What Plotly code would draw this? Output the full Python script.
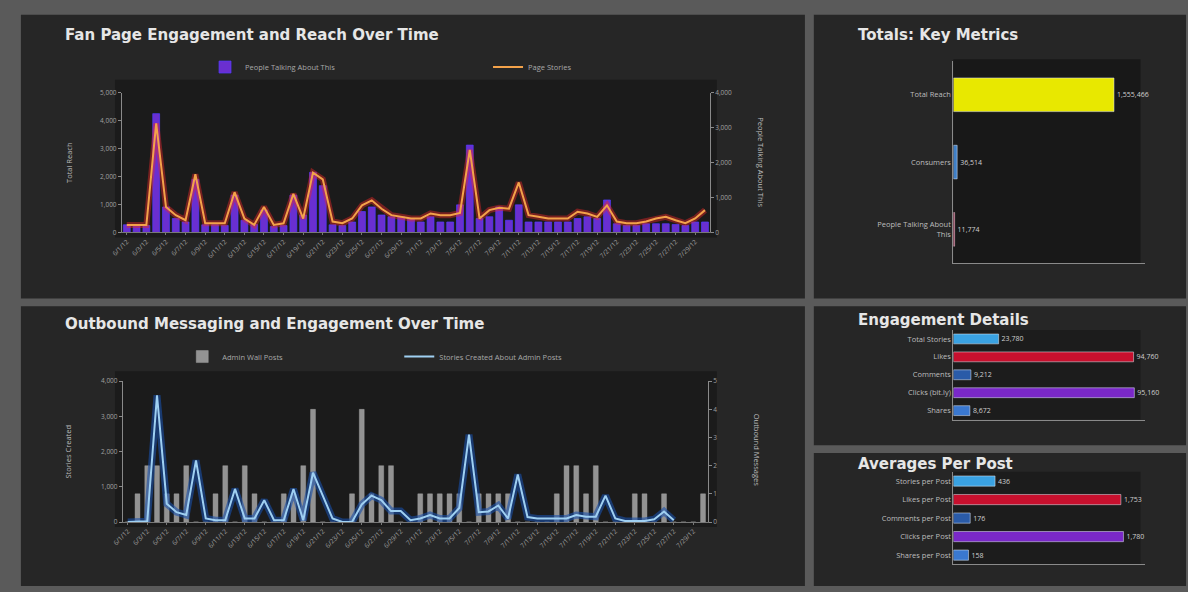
import datetime as dt
import plotly.graph_objects as go

W, H = 1188, 592
def fx(px): return px / W
def fy(py): return 1 - py / H

# ---------------- data ----------------
start = dt.date(2012, 6, 1)
dates = [f"{(start + dt.timedelta(days=i)).month}/{(start + dt.timedelta(days=i)).day}/12" for i in range(60)]

page_stories = [270, 270, 270, 3900, 910, 620, 440, 2080, 330, 330,
                330, 1440, 500, 270, 910, 270, 330, 1380, 500, 2140,
                1900, 390, 330, 500, 970, 1150, 850, 620, 560, 500,
                500, 680, 620, 620, 700, 2950, 500, 800, 880, 850,
                1790, 620, 560, 500, 500, 500, 740, 680, 560, 970,
                390, 330, 330, 390, 500, 560, 440, 330, 500, 800]

people_talking = [220, 220, 200, 3400, 730, 400, 300, 1520, 220, 220,
                  200, 1070, 350, 230, 640, 170, 200, 1070, 500, 1720,
                  1340, 220, 200, 300, 600, 730, 500, 450, 450, 400,
                  300, 450, 300, 300, 790, 2500, 400, 450, 730, 350,
                  790, 300, 300, 300, 300, 300, 400, 450, 400, 930,
                  250, 200, 200, 250, 250, 250, 230, 200, 300, 300]

admin_posts = [0, 1, 2, 2, 1, 1, 2, 0, 0, 1,
               2, 0, 2, 1, 0, 0, 1, 1, 2, 4,
               0, 0, 0, 1, 4, 1, 2, 2, 0, 0,
               1, 1, 1, 1, 1, 0, 1, 1, 1, 1,
               0, 0, 0, 0, 1, 2, 2, 1, 2, 0,
               0, 0, 1, 1, 0, 1, 0, 0, 0, 1]

stories_admin = [0, 0, 20, 3600, 520, 280, 200, 1750, 100, 50,
                 50, 940, 100, 100, 620, 50, 50, 940, 50, 1400,
                 750, 100, 0, 0, 500, 750, 620, 310, 310, 50,
                 100, 200, 100, 100, 400, 2480, 280, 300, 470, 100,
                 1350, 140, 100, 100, 100, 100, 200, 150, 150, 750,
                 100, 30, 30, 30, 80, 300, 50, None, None, None]

totals_labels = ["Total Reach", "Consumers", "People Talking About<br>This"]
totals_values = [1555466, 36514, 11774]
totals_colors = ["#e8e800", "#3f7fc6", "#c0143c"]

eng_labels = ["Total Stories", "Likes", "Comments", "Clicks (bit.ly)", "Shares"]
eng_values = [23780, 94760, 9212, 95160, 8672]

avg_labels = ["Stories per Post", "Likes per Post", "Comments per Post", "Clicks per Post", "Shares per Post"]
avg_values = [436, 1753, 176, 1780, 158]

detail_colors = ["#3aa2e2", "#c8102e", "#2a5ba8", "#7a28c8", "#3a78d0"]

# ---------------- figure ----------------
fig = go.Figure()

TICKC = "#a0a0a0"
LINEC = "#777777"

fig.add_trace(go.Bar(x=dates, y=people_talking, xaxis="x", yaxis="y",
                     name="People Talking About This", legend="legend",
                     marker=dict(color="#6a2fd0", line=dict(color="rgba(80,60,255,0.7)", width=1))))
fig.add_trace(go.Scatter(x=dates, y=page_stories, xaxis="x", yaxis="y2", mode="lines",
                         line=dict(color="rgba(230,40,40,0.45)", width=6),
                         showlegend=False, hoverinfo="skip"))
fig.add_trace(go.Scatter(x=dates, y=page_stories, xaxis="x", yaxis="y2", mode="lines",
                         name="Page Stories", legend="legend",
                         line=dict(color="#f3a24a", width=2)))

fig.add_trace(go.Bar(x=dates, y=admin_posts, xaxis="x3", yaxis="y3", width=0.5,
                     name="Admin Wall Posts", legend="legend2",
                     marker=dict(color="#939393", line=dict(color="rgba(170,170,170,0.4)", width=1))))
fig.add_trace(go.Scatter(x=dates, y=stories_admin, xaxis="x3", yaxis="y4", mode="lines",
                         line=dict(color="rgba(25,80,170,0.6)", width=7),
                         showlegend=False, hoverinfo="skip", connectgaps=False))
fig.add_trace(go.Scatter(x=dates, y=stories_admin, xaxis="x3", yaxis="y4", mode="lines",
                         name="Stories Created About Admin Posts", legend="legend2",
                         line=dict(color="#9fd0f2", width=2)))

fig.add_trace(go.Bar(x=totals_values, y=totals_labels, orientation="h", xaxis="x5", yaxis="y5",
                     marker=dict(color=totals_colors), width=0.5, showlegend=False,
                     text=[f"{v:,}" for v in totals_values], textposition="outside",
                     textfont=dict(size=7, color="#cfcfcf"), cliponaxis=False))
fig.add_trace(go.Bar(x=eng_values, y=eng_labels, orientation="h", xaxis="x6", yaxis="y6",
                     marker=dict(color=detail_colors), width=0.55, showlegend=False,
                     text=[f"{v:,}" for v in eng_values], textposition="outside",
                     textfont=dict(size=7, color="#cfcfcf"), cliponaxis=False))
fig.add_trace(go.Bar(x=avg_values, y=avg_labels, orientation="h", xaxis="x7", yaxis="y7",
                     marker=dict(color=detail_colors), width=0.55, showlegend=False,
                     text=[f"{v:,}" for v in avg_values], textposition="outside",
                     textfont=dict(size=7, color="#cfcfcf"), cliponaxis=False))

def xcat(domain, anchor):
    return dict(domain=domain, anchor=anchor, type="category", range=[-0.5, 59.5],
                tickmode="array", tickvals=dates[::2], tickangle=-45,
                tickfont=dict(size=6.5, color=TICKC), showline=True, linecolor=LINEC,
                ticks="outside", ticklen=2, tickcolor=LINEC, showgrid=False, zeroline=False)

def yval(domain, anchor, side, rng, vals, texts, overlay=None):
    d = dict(domain=domain, anchor=anchor, side=side, range=rng, tickmode="array",
             tickvals=vals, ticktext=texts, tickfont=dict(size=6.5, color=TICKC),
             showline=True, linecolor="#8a8a8a", ticks="outside", ticklen=3, tickcolor="#8a8a8a",
             showgrid=False, zeroline=False)
    if overlay:
        d["overlaying"] = overlay
    return d

def xbar(rng, anchor):
    return dict(domain=[fx(951), fx(1145)], anchor=anchor, range=rng, showticklabels=False,
                showline=True, linecolor="#8a8a8a", showgrid=False, zeroline=False, ticks="")

def ybar(domain, anchor):
    return dict(domain=domain, anchor=anchor, type="category", autorange="reversed",
                showline=True, linecolor="#8a8a8a", showgrid=False, zeroline=False, ticks="",
                tickfont=dict(size=7.5, color="#bdbdbd"))

k = [0, 1000, 2000, 3000, 4000, 5000]
kt = ["0", "1,000", "2,000", "3,000", "4,000", "5,000"]

fig.update_layout(
    width=W, height=H, autosize=False,
    margin=dict(l=0, r=0, t=0, b=0),
    paper_bgcolor="#5a5a5a", plot_bgcolor="rgba(0,0,0,0)",
    font=dict(family="Open Sans", color="#cfcfcf"),
    bargap=0.3, barmode="overlay",
    xaxis=xcat([fx(111), fx(705)], "y"),
    yaxis=yval([fy(231), fy(89)], "x", "right", [0, 4000], k[:5], kt[:5]),
    yaxis2=yval([fy(231), fy(89)], "x", "left", [0, 5000], k, kt, overlay="y"),
    xaxis3=xcat([fx(112), fx(703)], "y3"),
    yaxis3=yval([fy(525), fy(382)], "x3", "right", [0, 5], [0, 1, 2, 3, 4, 5], ["0", "1", "2", "3", "4", "5"]),
    yaxis4=yval([fy(525), fy(382)], "x3", "left", [0, 4000], k[:5], kt[:5], overlay="y3"),
    xaxis5=xbar([0, 1860000], "y5"),
    yaxis5=ybar([fy(262), fy(57)], "x5"),
    xaxis6=xbar([0, 101000], "y6"),
    yaxis6=ybar([fy(421), fy(330)], "x6"),
    xaxis7=xbar([0, 2010], "y7"),
    yaxis7=ybar([fy(568), fy(474)], "x7"),
    legend=dict(orientation="h", x=fx(195), y=fy(63), xanchor="left", yanchor="middle",
                entrywidth=238, entrywidthmode="pixels", bgcolor="rgba(0,0,0,0)",
                font=dict(size=7.5, color="#a8a8a8"), traceorder="normal"),
    legend2=dict(orientation="h", x=fx(172), y=fy(357), xanchor="left", yanchor="middle",
                 entrywidth=172, entrywidthmode="pixels", bgcolor="rgba(0,0,0,0)",
                 font=dict(size=7.5, color="#a8a8a8"), traceorder="normal"),
    showlegend=True,
)

def rect(x0, y0, x1, y1, color):
    return dict(type="rect", xref="paper", yref="paper", x0=fx(x0), x1=fx(x1), y0=fy(y1), y1=fy(y0),
                fillcolor=color, line=dict(width=0), layer="below")

shapes = [
    rect(9, 10, 801, 298, "#262626"),
    rect(810, 10, 1186, 298, "#262626"),
    rect(9, 306, 801, 590, "#262626"),
    rect(810, 306, 1186, 447, "#262626"),
    rect(810, 455, 1186, 590, "#262626"),
    rect(104, 76, 712, 236, "#1b1b1b"),
    rect(104, 372, 712, 530, "#1b1b1b"),
    rect(951, 55, 1140, 262, "#181818"),
    rect(951, 330, 1140, 421, "#1c1c1c"),
    rect(951, 474, 1140, 568, "#1c1c1c"),
]
fig.update_layout(shapes=shapes)

TITLE = dict(family="DejaVu Sans", size=15, color="#e6e6e6", weight="bold")
ann = []
for txt, x, y in [("Fan Page Engagement and Reach Over Time", 52, 30),
                  ("Outbound Messaging and Engagement Over Time", 52, 324),
                  ("Totals: Key Metrics", 853, 30),
                  ("Engagement Details", 853, 320),
                  ("Averages Per Post", 853, 466)]:
    ann.append(dict(text=txt, x=fx(x), y=fy(y), xref="paper", yref="paper", xanchor="left",
                    yanchor="middle", showarrow=False, font=TITLE))
AX = dict(size=7.5, color="#bcbcbc")
for txt, x, y, ang in [("Total Reach", 57, 160, -90), ("People Talking About This", 757, 160, 90),
                       ("Stories Created", 57, 453, -90), ("Outbound Messages", 752, 452, 90)]:
    ann.append(dict(text=txt, x=fx(x), y=fy(y), xref="paper", yref="paper", xanchor="center",
                    yanchor="middle", showarrow=False, textangle=ang, font=AX))
fig.update_layout(annotations=ann)

fig.write_html("out.html", config={"displayModeBar": False},
               post_script="document.body.style.margin='0';document.body.style.overflow='hidden';")
